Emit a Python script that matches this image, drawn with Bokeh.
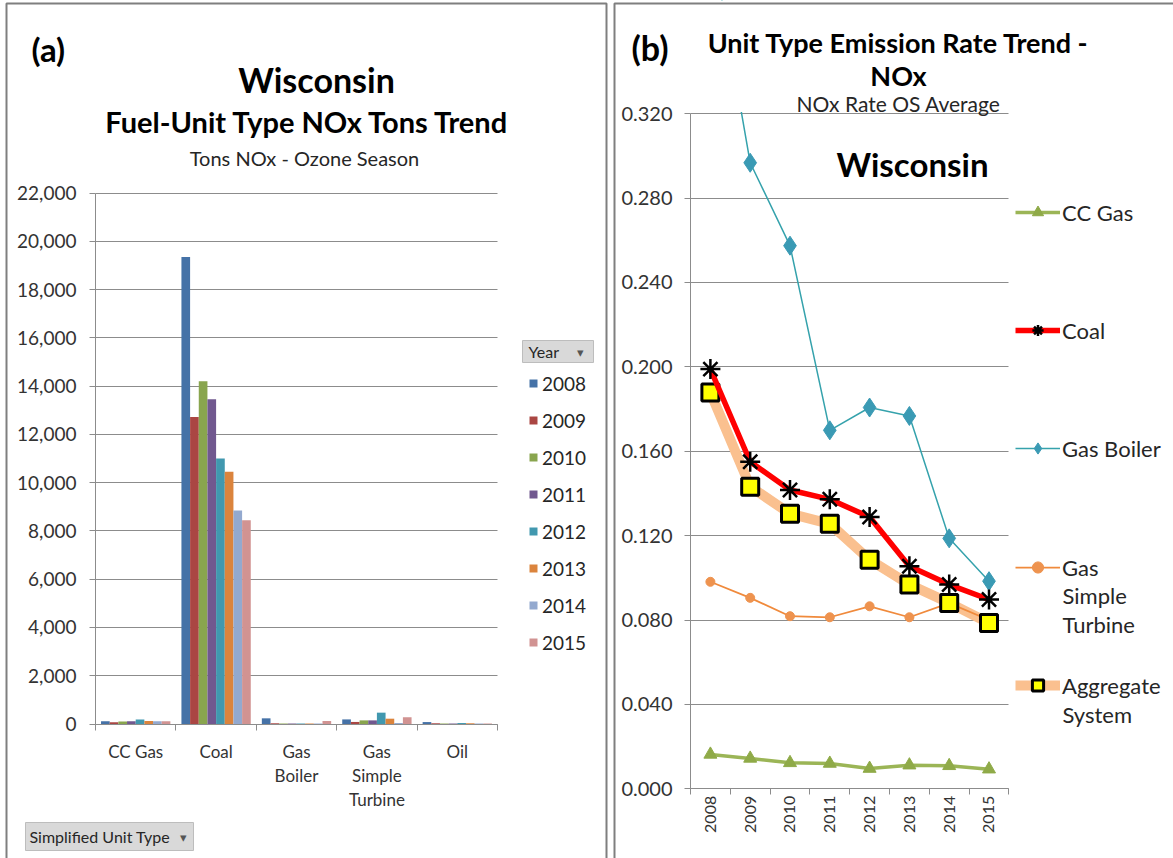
import math
from bokeh.plotting import figure
from bokeh.models import (Range1d, ColumnDataSource, Legend, LegendItem, Label, LinearAxis,
                          FixedTicker, NumeralTickFormatter, Grid, BoxAnnotation)
from bokeh.transform import dodge
from bokeh.layouts import row
from bokeh.embed import file_html
from bokeh.resources import INLINE

FONT = "Lato"
TXT = "#262626"
AX = "#333333"
GRID = "#8c8c8c"

# ---------------- panel (a) data: NOx tons, ozone season ----------------
unit_types = ["CC Gas", "Coal", "Gas Boiler", "Gas Simple Turbine", "Oil"]
unit_labels = ["CC Gas", "Coal", "Gas\nBoiler", "Gas\nSimple\nTurbine", "Oil"]
years = ["2008", "2009", "2010", "2011", "2012", "2013", "2014", "2015"]

tons_2008 = [110, 19350, 235, 190, 80]
tons_2009 = [70, 12720, 30, 85, 30]
tons_2010 = [100, 14200, 20, 150, 20]
tons_2011 = [110, 13450, 20, 150, 20]
tons_2012 = [190, 11000, 20, 470, 40]
tons_2013 = [120, 10450, 20, 220, 30]
tons_2014 = [110, 8850, 20, 40, 20]
tons_2015 = [110, 8440, 125, 280, 20]
tons_max = 22000
tons_step = 2000

bar_colors = ["#4572A7", "#AA4643", "#89A54E", "#71588F",
              "#4198AF", "#DB843D", "#93A9CF", "#D19392"]

# ---------------- panel (b) data: NOx rate OS average ----------------
rate_cc_gas = [0.0163, 0.0144, 0.0123, 0.0120, 0.0096, 0.0112, 0.0109, 0.0093]
rate_coal = [0.1989, 0.1550, 0.1416, 0.1372, 0.1288, 0.1055, 0.0968, 0.0897]
rate_gas_boiler = [0.405, 0.2967, 0.2574, 0.1699, 0.1807, 0.1767, 0.1187, 0.0984]
rate_gas_simple_turbine = [0.0981, 0.0905, 0.0818, 0.0813, 0.0865, 0.0813, 0.0880, 0.0800]
rate_aggregate = [0.1878, 0.1432, 0.1304, 0.1256, 0.1085, 0.0968, 0.0881, 0.0786]
rate_max = 0.32
rate_step = 0.04

# ---------------- page geometry (pixels) ----------------
H = 858
W_A, W_B = 610, 563
A_X0, A_CAT_PX = 95.0, 80.4          # left edge of plot area, width of a category
A_Y0, A_YTOP = 723.5, 192.5          # pixel rows of 0 and of tons_max
B_X0, B_YEAR_PX = 80.0, 39.8
B_Y0, B_YTOP = 788.3, 113.1

HAS_CROSS = "cross_bounds" in Grid.properties()


def style_axis(ax, size, standoff, tick_out=6, line=True):
    ax.axis_line_color = GRID if line else None
    ax.major_tick_line_color = GRID if tick_out else None
    ax.major_tick_in = 0
    ax.major_tick_out = tick_out
    ax.minor_tick_line_color = None
    ax.major_label_text_font = FONT
    ax.major_label_text_font_size = size
    ax.major_label_text_color = AX
    ax.major_label_standoff = standoff


def add_ygrid(p, ticks, ybounds, xbounds):
    if HAS_CROSS:
        g = Grid(dimension=1, ticker=FixedTicker(ticks=ticks), bounds=ybounds,
                 cross_bounds=xbounds, grid_line_color=GRID, grid_line_width=1)
        p.add_layout(g)
    else:
        p.segment(x0=[xbounds[0]] * len(ticks), x1=[xbounds[1]] * len(ticks), y0=ticks, y1=ticks,
                  line_color=GRID, line_width=1, level="underlay")


def lab(p, text, x, y, size, bold=False, align="center", color="#000000"):
    p.add_layout(Label(x=x, y=H - y, x_units="screen", y_units="screen", text=text,
                       text_font=FONT, text_font_size=size, text_align=align,
                       text_baseline="middle", text_color=color,
                       text_font_style="bold" if bold else "normal"))


def box(p, l, t, r, b, fill=None, line="#7f7f7f", lw=2):
    p.add_layout(BoxAnnotation(left=l, right=r, top=H - t, bottom=H - b,
                               left_units="screen", right_units="screen",
                               top_units="screen", bottom_units="screen",
                               fill_color=fill if fill else "white", fill_alpha=1 if fill else 0,
                               line_color=line, line_width=lw, line_alpha=1 if line else 0))


# ======================= figure (a) =======================
n_cat = len(unit_types)
cat_pos = [i + 0.5 for i in range(n_cat)]
cat_edges = [float(i) for i in range(n_cat + 1)]
k_a = (A_Y0 - A_YTOP) / tons_max
pa = figure(width=W_A, height=H,
            x_range=Range1d(-A_X0 / A_CAT_PX, (W_A - A_X0) / A_CAT_PX),
            y_range=Range1d(-(H - A_Y0) / k_a, A_Y0 / k_a),
            x_axis_type=None, y_axis_type=None, min_border=0,
            output_backend="svg", toolbar_location=None, outline_line_color=None)

tons_ticks = list(range(0, tons_max + 1, tons_step))
add_ygrid(pa, tons_ticks, (0, tons_max), (0, n_cat))

src = ColumnDataSource(dict(pos=cat_pos, **dict(zip(years, [tons_2008, tons_2009, tons_2010, tons_2011,
                                                          tons_2012, tons_2013, tons_2014, tons_2015]))))
bw = 0.1078
items = []
for i, (yr, col) in enumerate(zip(years, bar_colors)):
    r = pa.vbar(x=dodge("pos", (i - 3.5) * bw), top=yr, width=bw, source=src,
                fill_color=col, line_color=None)
    items.append(LegendItem(label=yr, renderers=[r]))

ya = LinearAxis(fixed_location=0, bounds=(0, tons_max), ticker=FixedTicker(ticks=tons_ticks),
                formatter=NumeralTickFormatter(format="0,0"))
style_axis(ya, "19px", 13)
pa.add_layout(ya, "left")

xa = LinearAxis(fixed_location=0, bounds=(0, n_cat), ticker=FixedTicker(ticks=cat_edges))
style_axis(xa, "1px", 0)
xa.major_label_text_color = None
pa.add_layout(xa, "below")

label_lines = [lbl.split("\n") for lbl in unit_labels]
for r_i, standoff in enumerate([17, 41, 65]):
    ov = {p_: (ln[r_i] if r_i < len(ln) else "") for p_, ln in zip(cat_pos, label_lines)}
    xl = LinearAxis(fixed_location=0, ticker=FixedTicker(ticks=cat_pos), major_label_overrides=ov)
    style_axis(xl, "17px", standoff, tick_out=0, line=False)
    pa.add_layout(xl, "below")

leg_a = Legend(items=items, location=(528, H - 654), orientation="vertical",
               glyph_width=10, glyph_height=10, label_height=24, spacing=13, label_standoff=4,
               padding=0, margin=0, border_line_color=None, background_fill_alpha=0,
               label_text_font=FONT, label_text_font_size="19px", label_text_color=TXT)
pa.add_layout(leg_a)

box(pa, 6, 3, 606, H + 10)
box(pa, 522, 340, 593, 362, fill="#d9d9d9", line="#bdbdbd", lw=1)
box(pa, 25, 822, 193, 850, fill="#d9d9d9", line="#bdbdbd", lw=1)
lab(pa, "Year", 528, 351, "16px", align="left", color=TXT)
lab(pa, "\u25BE", 580, 351, "13px", color="#555555")
lab(pa, "Simplified Unit Type", 29, 836, "16px", align="left", color=TXT)
lab(pa, "\u25BE", 183, 836, "13px", color="#555555")

lab(pa, "(a)", 31, 48, "33px", bold=True, align="left")
lab(pa, "Wisconsin", 316, 79, "34px", bold=True)
lab(pa, "Fuel-Unit Type NOx Tons Trend", 307, 121, "29px", bold=True)
lab(pa, "Tons NOx - Ozone Season", 304, 157, "20px", color=TXT)

# ======================= figure (b) =======================
year_vals = [int(y) for y in years]
x_lo, x_hi = year_vals[0] - 0.5, year_vals[-1] + 0.5
k_b = (B_Y0 - B_YTOP) / rate_max
y_end_b = B_Y0 / k_b
pb = figure(width=W_B, height=H,
            x_range=Range1d(x_lo - B_X0 / B_YEAR_PX, x_lo + (W_B - B_X0) / B_YEAR_PX),
            y_range=Range1d(-(H - B_Y0) / k_b, y_end_b),
            x_axis_type=None, y_axis_type=None, min_border=0,
            output_backend="svg", toolbar_location=None, outline_line_color=None)

rate_ticks = [round(i * rate_step, 3) for i in range(int(round(rate_max / rate_step)) + 1)]
add_ygrid(pb, rate_ticks, (0, rate_max), (x_lo, x_hi))

agg_line = pb.line(year_vals, rate_aggregate, line_color="#FAC08F", line_width=10, line_join="round")
gst_line = pb.line(year_vals, rate_gas_simple_turbine, line_color="#F08A3C", line_width=1.75)
gst_pts = pb.scatter(year_vals, rate_gas_simple_turbine, marker="circle", size=9,
                     fill_color="#EE934F", line_color="#EE934F")
gb_line = pb.line(year_vals, rate_gas_boiler, line_color="#35A2AC", line_width=1.5)
gb_pts = pb.scatter(year_vals, rate_gas_boiler, marker="diamond", size=19,
                    fill_color="#3A9AB4", line_color="#3A9AB4")
cc_line = pb.line(year_vals, rate_cc_gas, line_color="#9BB556", line_width=3.5)
cc_pts = pb.scatter(year_vals, rate_cc_gas, marker="triangle", size=13,
                    fill_color="#8FAA48", line_color="#8FAA48")
agg_pts = pb.scatter(year_vals, rate_aggregate, marker="square", size=17,
                     fill_color="#FFFF00", line_color="#000000", line_width=3)
coal_line = pb.line(year_vals, rate_coal, line_color="#FF0000", line_width=5.5, line_join="round")
coal_pts = pb.scatter(year_vals, rate_coal, marker="asterisk", size=20,
                      line_color="#000000", line_width=2.5)

# white mask: the plot area ends at rate_max
pb.add_layout(BoxAnnotation(left=x_lo, right=x_hi, bottom=rate_max + 1.5 / k_b, top=y_end_b,
                            fill_color="white", fill_alpha=1, line_color=None))

yb = LinearAxis(fixed_location=x_lo, bounds=(0, rate_max), ticker=FixedTicker(ticks=rate_ticks),
                formatter=NumeralTickFormatter(format="0.000"))
style_axis(yb, "20px", 12)
pb.add_layout(yb, "left")

xb = LinearAxis(fixed_location=0, bounds=(x_lo, x_hi),
                ticker=FixedTicker(ticks=[v - 0.5 for v in year_vals] + [x_hi]))
style_axis(xb, "1px", 0)
xb.major_label_text_color = None
pb.add_layout(xb, "below")

xbl = LinearAxis(fixed_location=0, ticker=FixedTicker(ticks=year_vals),
                 major_label_overrides={v: y for v, y in zip(year_vals, years)},
                 major_label_orientation=math.pi / 2)
style_axis(xbl, "16px", 7, tick_out=0, line=False)
pb.add_layout(xbl, "below")

series_legend = [
    ("CC Gas", [cc_line, cc_pts], 212),
    ("Coal", [coal_line, coal_pts], 330),
    ("Gas Boiler", [gb_line, gb_pts], 448),
    ("Gas\nSimple\nTurbine", [gst_line, gst_pts], 567),
    ("Aggregate\nSystem", [agg_line, agg_pts], 685),
]
for text, rends, yc in series_legend:
    lines = text.split("\n")
    lg = Legend(items=[LegendItem(label=lines[0], renderers=rends)], location=(405, H - yc - 14),
                glyph_width=45, glyph_height=28, label_height=28, label_standoff=2,
                padding=0, margin=0, border_line_color=None, background_fill_alpha=0,
                label_text_font=FONT, label_text_font_size="22px", label_text_color=TXT)
    pb.add_layout(lg)
    for j, extra in enumerate(lines[1:]):
        lab(pb, extra, 452, yc + 29 * (j + 1) - 1 + (1 if len(lines) == 2 else 0), "22px",
            align="left", color=TXT)

box(pb, 4, 3, W_B + 10, H + 10)
lab(pb, "(b)", 21, 47, "34px", bold=True, align="left")
lab(pb, "Unit Type Emission Rate Trend -", 288, 42, "27px", bold=True)
lab(pb, "NOx", 288, 75, "27px", bold=True)
lab(pb, "NOx Rate OS Average", 288, 103, "21px", color=TXT)
lab(pb, "Wisconsin", 302, 163, "33px", bold=True)

layout = row(pa, pb)
open("out.html", "w").write(file_html(layout, INLINE))
